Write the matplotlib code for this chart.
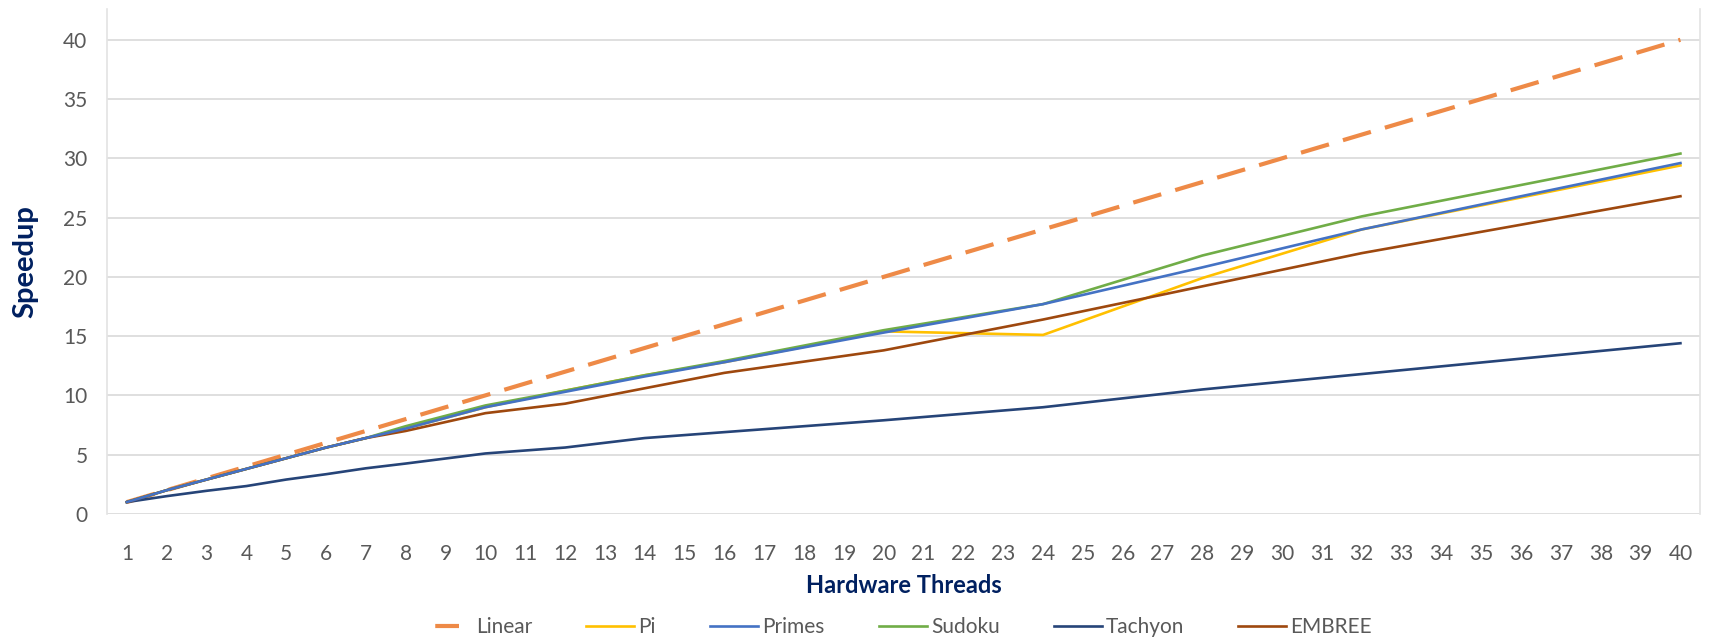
import matplotlib.pyplot as plt

# thread counts at which speedup was measured
threads = [1, 2, 3, 4, 5, 6, 7, 8, 10, 12, 14, 16, 20, 24, 28, 32, 40]

linear = [1, 2, 3, 4, 5, 6, 7, 8, 10, 12, 14, 16, 20, 24, 28, 32, 40]
pi = [1, 2.0, 2.9, 3.8, 4.7, 5.6, 6.4, 7.2, 9.0, 10.4, 11.7, 12.8, 15.4, 15.1, 19.9, 24.0, 29.4]
primes = [1, 2.0, 2.9, 3.8, 4.7, 5.6, 6.4, 7.2, 9.0, 10.3, 11.6, 12.8, 15.3, 17.7, 20.8, 24.0, 29.6]
sudoku = [1, 2.0, 2.9, 3.8, 4.7, 5.6, 6.4, 7.4, 9.15, 10.4, 11.7, 12.9, 15.5, 17.7, 21.8, 25.1, 30.4]
tachyon = [1, 1.5, 1.95, 2.35, 2.9, 3.35, 3.85, 4.25, 5.1, 5.6, 6.4, 6.9, 7.9, 9.0, 10.5, 11.8, 14.4]
embree = [1, 2.0, 2.9, 3.8, 4.7, 5.6, 6.4, 7.0, 8.5, 9.3, 10.6, 11.9, 13.8, 16.4, 19.2, 22.0, 26.8]

tick_labels = [str(i) for i in range(1, 41)]

plt.rcParams['font.family'] = ['Lato', 'DejaVu Sans']

NAVY = '#002060'
GRAY = '#595959'

fig = plt.figure(figsize=(17.17, 6.4), dpi=100)
ax = fig.add_axes([0.0623, 0.197, 0.928, 0.789])

ax.plot(threads, linear, color='#EE8A47', lw=3, dashes=(7, 3.5), label='Linear', zorder=3)
ax.plot(threads, pi, color='#FFC000', lw=1.9, label='Pi', zorder=4)
ax.plot(threads, primes, color='#4472C4', lw=1.9, label='Primes', zorder=5)
ax.plot(threads, sudoku, color='#70AD47', lw=1.9, label='Sudoku', zorder=4)
ax.plot(threads, tachyon, color='#264478', lw=1.9, label='Tachyon', zorder=4)
ax.plot(threads, embree, color='#9E480E', lw=1.9, label='EMBREE', zorder=4)

ax.set_xlim(0.5, 40.5)
ax.set_ylim(0, 42.6)
ax.set_xticks(range(1, 41))
ax.set_xticklabels(tick_labels)
ax.set_yticks(range(0, 41, 5))
ax.tick_params(axis='both', length=0, labelsize=15, labelcolor=GRAY)
ax.tick_params(axis='x', pad=22)
ax.tick_params(axis='y', pad=14)

ax.grid(axis='y', color='#D9D9D9', lw=1.2)
ax.set_axisbelow(True)
for side in ['top', 'bottom']:
    ax.spines[side].set_visible(False)
for side in ['left', 'right']:
    ax.spines[side].set_color('#E3E3E3')
    ax.spines[side].set_linewidth(1.2)

ax.set_xlabel('Hardware Threads', fontsize=17, fontweight='bold', color=NAVY, labelpad=7)
ax.set_ylabel('Speedup', fontsize=21, fontweight='bold', color=NAVY, labelpad=18)

leg = fig.legend(loc='center', bbox_to_anchor=(0.523, 0.02), ncol=6, frameon=False,
                 fontsize=15, handlelength=2.3, columnspacing=2.6, handletextpad=0.2)
for t in leg.get_texts():
    t.set_color(GRAY)
# single centred dash for the Linear key
leg.legend_handles[0].set_linestyle((23, (5.7, 20)))

fig.savefig('out.png', dpi=100)
